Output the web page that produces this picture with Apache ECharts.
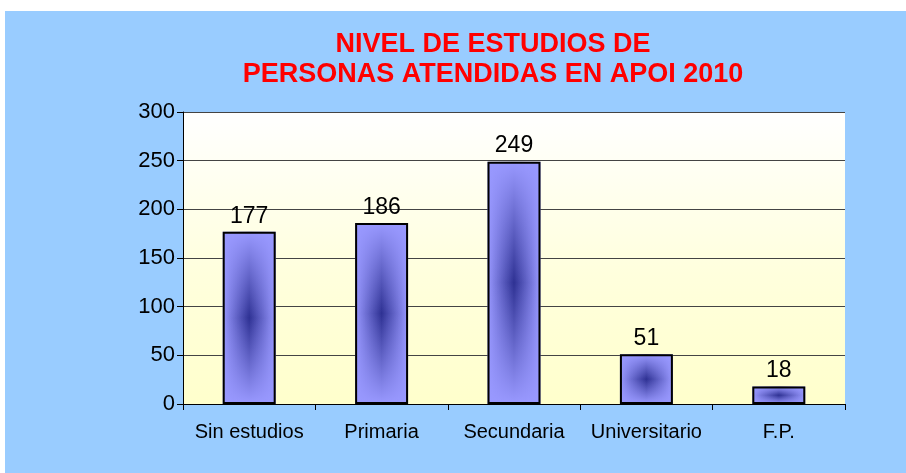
<!DOCTYPE html>
<html>
<head>
<meta charset="utf-8">
<script src="https://cdn.jsdelivr.net/npm/echarts@6/dist/echarts.min.js"></script>
<style>
  html, body { margin: 0; padding: 0; background: #fff; }
  #chart { position: absolute; left: 5px; top: 11px; width: 901px; height: 462px; }
</style>
</head>
<body>
<div id="chart"></div>
<script>
// datos del gráfico
const categories = ['Sin estudios', 'Primaria', 'Secundaria', 'Universitario', 'F.P.'];
const values = [177, 186, 249, 51, 18];
const titleLines = ['NIVEL DE ESTUDIOS DE', 'PERSONAS ATENDIDAS EN APOI 2010'];

const chart = echarts.init(document.getElementById('chart'));

const light = '#9999FF';
const dark = '#2E3193';

chart.setOption({
  backgroundColor: '#99CCFF',
  animation: false,
  textStyle: { fontFamily: 'Liberation Sans, Arial, sans-serif' },
  title: {
    text: titleLines.join('\n'),
    left: 483,
    textAlign: 'center',
    top: 14,
    textStyle: {
      color: '#FF0000',
      fontSize: 27,
      fontWeight: 'bold',
      lineHeight: 30,
      fontFamily: 'Liberation Sans, Arial, sans-serif'
    }
  },
  grid: {
    left: 178,
    right: 61,
    top: 101,
    bottom: 69,
    show: true,
    borderWidth: 0,
    backgroundColor: new echarts.graphic.LinearGradient(0, 0, 0, 1, [
      { offset: 0, color: '#FFFFFF' },
      { offset: 0.55, color: '#FFFFDD' },
      { offset: 1, color: '#FFFFCC' }
    ])
  },
  xAxis: {
    type: 'category',
    data: categories,
    axisLine: { lineStyle: { color: '#000', width: 1 } },
    axisTick: { show: true, interval: 0, length: 6, lineStyle: { color: '#000' } },
    axisLabel: { interval: 0, color: '#000', fontSize: 20, margin: 18 }
  },
  yAxis: {
    type: 'value',
    min: 0,
    max: 300,
    interval: 50,
    axisLine: { show: true, lineStyle: { color: '#000' } },
    axisTick: { show: true, length: 6, lineStyle: { color: '#000' } },
    axisLabel: { color: '#000', fontSize: 22, margin: 8 },
    splitLine: { lineStyle: { color: '#444', width: 1 } }
  },
  series: [
    {
      name: 'base',
      type: 'bar',
      data: values,
      barWidth: '40%',
      barGap: '-100%',
      itemStyle: {
        color: new echarts.graphic.LinearGradient(0, 0, 1, 0, [
          { offset: 0, color: light },
          { offset: 0.5, color: dark },
          { offset: 1, color: light }
        ])
      }
    },
    {
      name: 'overlay',
      type: 'bar',
      data: values,
      barWidth: '40%',
      barGap: '-100%',
      silent: true,
      itemStyle: {
        borderColor: '#000',
        borderWidth: 2,
        color: new echarts.graphic.LinearGradient(0, 0, 0, 1, [
          { offset: 0, color: 'rgba(153,153,255,1)' },
          { offset: 0.5, color: 'rgba(153,153,255,0)' },
          { offset: 1, color: 'rgba(153,153,255,1)' }
        ])
      },
      label: {
        show: true,
        position: 'top',
        distance: 4,
        color: '#000',
        fontSize: 23
      }
    }
  ]
});
</script>
</body>
</html>
